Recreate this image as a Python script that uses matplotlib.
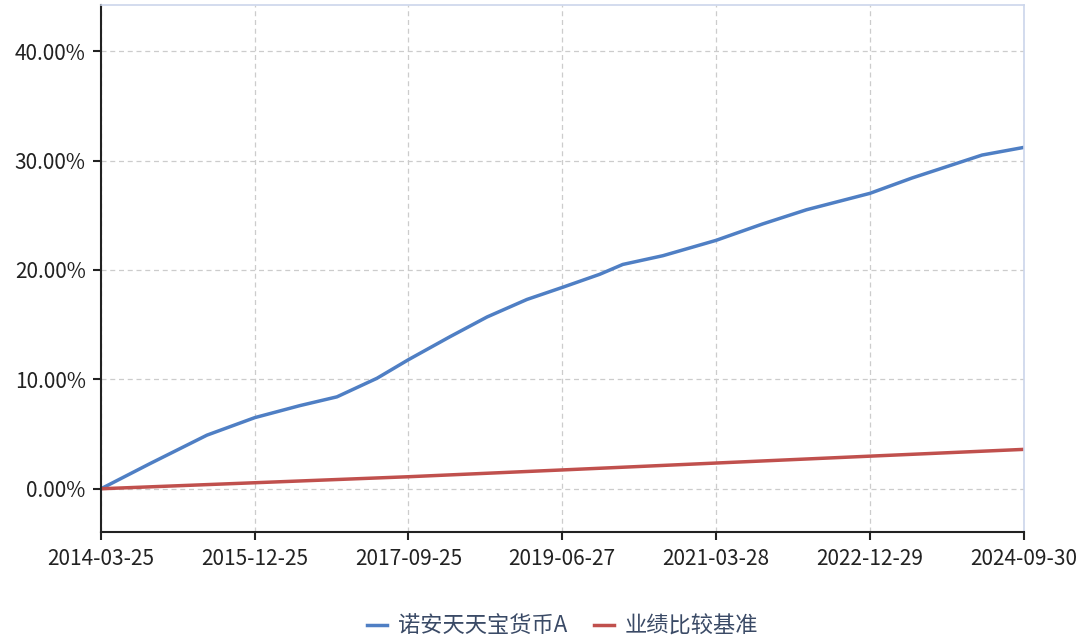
import matplotlib.pyplot as plt
import numpy as np
from matplotlib.ticker import FuncFormatter

plt.rcParams['font.family'] = ['Noto Sans CJK SC', 'DejaVu Sans']

fechas = ["2014-03-25", "2014-10-15", "2015-06-09", "2015-12-25", "2016-06-30",
          "2016-12-01", "2017-05-17", "2017-09-25", "2018-03-17", "2018-08-18",
          "2019-01-31", "2019-06-27", "2019-11-30", "2020-03-05", "2020-08-19",
          "2021-03-28", "2021-10-08", "2022-04-09", "2022-12-29", "2023-06-22",
          "2023-12-06", "2024-04-09", "2024-09-30"]

fondo = [0.0, 2.3, 4.9, 6.5, 7.6,
         8.4, 10.1, 11.8, 13.9, 15.7,
         17.3, 18.4, 19.6, 20.5, 21.3,
         22.7, 24.2, 25.5, 27.0, 28.4,
         29.6, 30.5, 31.2]

bench_fechas = ["2014-03-25", "2015-12-25", "2017-09-25", "2019-06-27",
                "2021-03-28", "2022-12-29", "2024-09-30"]
bench = [0.0, 0.55, 1.1, 1.72, 2.35, 2.98, 3.6]

ticks_x = ["2014-03-25", "2015-12-25", "2017-09-25", "2019-06-27",
           "2021-03-28", "2022-12-29", "2024-09-30"]
ticks_y = [0, 10, 20, 30, 40]

x_fondo = np.array(fechas, dtype="datetime64[D]")
x_bench = np.array(bench_fechas, dtype="datetime64[D]")
x_ticks = np.array(ticks_x, dtype="datetime64[D]")

fig, ax = plt.subplots(figsize=(10.91, 6.43), dpi=100)
fig.subplots_adjust(left=0.0926, right=0.9385, top=0.992, bottom=0.173)

ax.plot(x_fondo, fondo, color="#4f7fc4", linewidth=2.5, label="诺安天天宝货币A")
ax.plot(x_bench, bench, color="#c0504d", linewidth=2.5, label="业绩比较基准")

ax.set_xlim(x_ticks[0], x_ticks[-1])
ax.set_ylim(-3.93, 44.2)
ax.set_xticks(x_ticks)
ax.set_xticklabels(ticks_x)
ax.set_yticks(ticks_y)
ax.yaxis.set_major_formatter(FuncFormatter(lambda v, p: "%.2f%%" % v))

ax.tick_params(axis="both", labelsize=15, colors="#222222", length=6, width=1.5)
ax.tick_params(axis="x", pad=6)
ax.tick_params(axis="y", pad=5)
ax.grid(True, linestyle=(0, (4, 3)), color="#cccccc", linewidth=0.9)

for lado in ["left", "bottom"]:
    ax.spines[lado].set_color("#222222")
    ax.spines[lado].set_linewidth(1.5)
for lado in ["top", "right"]:
    ax.spines[lado].set_color("#ccd6eb")
    ax.spines[lado].set_linewidth(1.2)

ax.legend(loc="center", bbox_to_anchor=(0.5, -0.18), ncol=2, frameon=False,
          fontsize=16, labelcolor="#3a4a66", handlelength=0.9, handletextpad=0.5,
          columnspacing=1.2)

plt.savefig("out.png")
plt.close()
